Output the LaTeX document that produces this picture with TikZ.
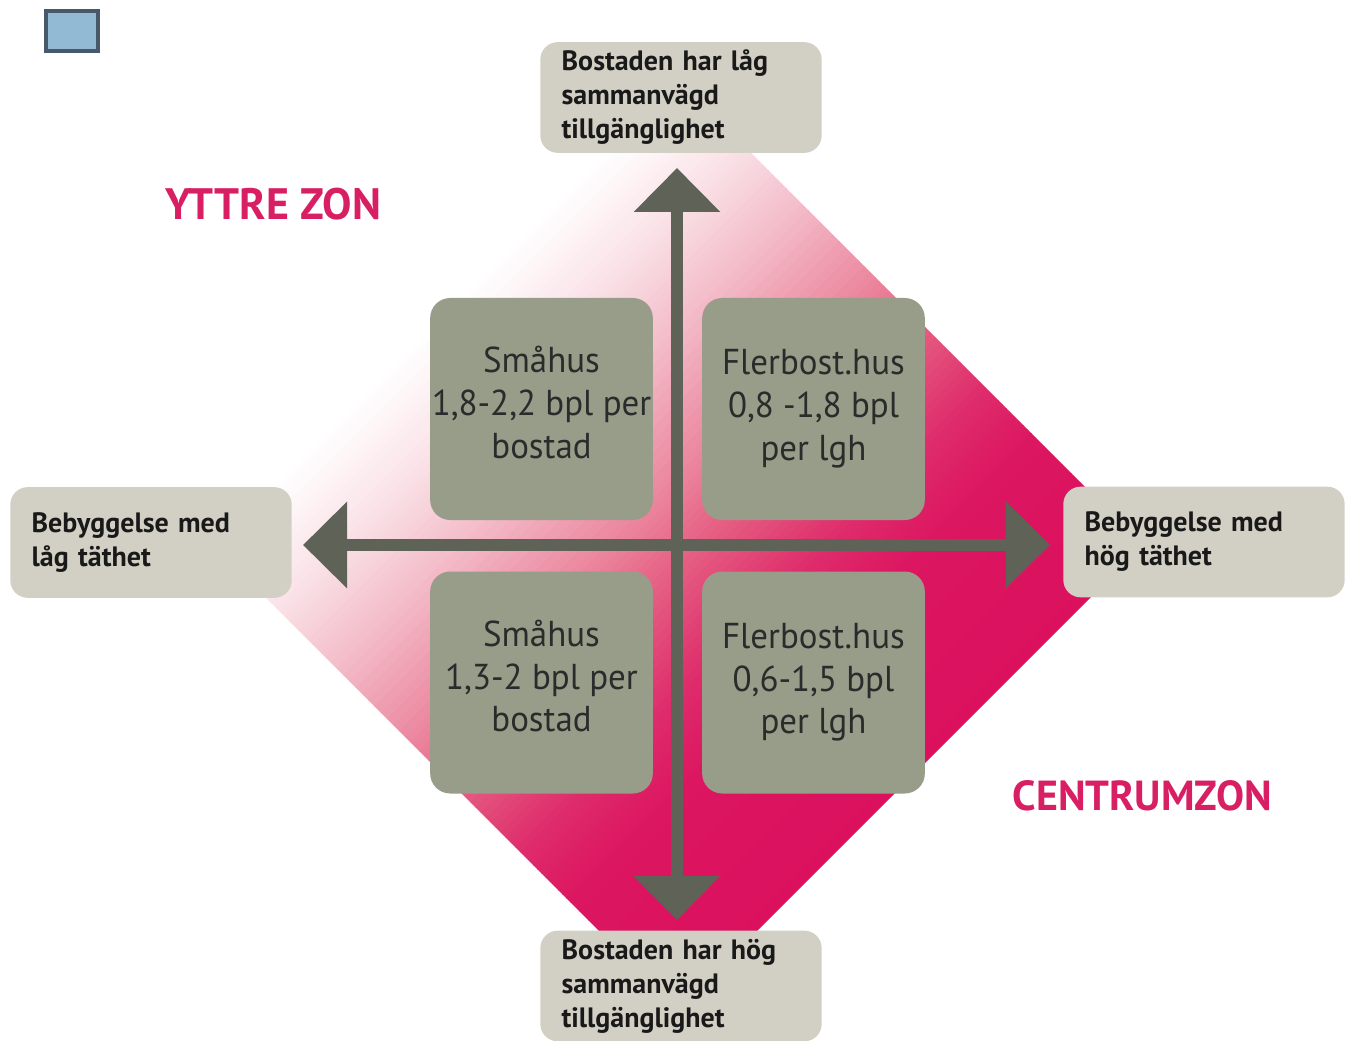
\documentclass[tikz,border=0pt]{standalone}
\usepackage{fontspec}
\setmainfont{PT Sans}
\newfontfamily\innerfont[FakeStretch=0.97]{PT Sans}
\usetikzlibrary{arrows.meta}
\definecolor{outerfill}{HTML}{D2D0C5}
\definecolor{innerfill}{HTML}{989D8A}
\definecolor{arrowc}{HTML}{5E6257}
\definecolor{textdark}{HTML}{2B2B2B}
\definecolor{zonec}{HTML}{D81F63}
\definecolor{sqfill}{HTML}{93BAD5}
\definecolor{sqborder}{HTML}{46596A}
\definecolor{sA}{HTML}{FFFFFF}
\definecolor{sB}{HTML}{FAE3E8}
\definecolor{sC}{HTML}{F4C0CC}
\definecolor{sD}{HTML}{EC8AA1}
\definecolor{sE}{HTML}{E55C81}
\definecolor{sF}{HTML}{DE2C6B}
\definecolor{sG}{HTML}{DC1661}
\definecolor{sH}{HTML}{DB115E}
\newcommand\bandseg[4]{%
  \foreach \k in {0,...,11}{%
    \pgfmathsetmacro\ua{#1+(#2-#1)*\k/12}%
    \pgfmathsetmacro\ub{#1+(#2-#1)*(\k+1)/12+1}%
    \pgfmathsetmacro\pc{100*(\k+0.5)/12}%
    \colorlet{bandc}{#4!\pc!#3}%
    \fill[bandc] ({678+\ua/2+520},{545+\ua/2-520}) -- ({678+\ua/2-520},{545+\ua/2+520})
      -- ({678+\ub/2-520},{545+\ub/2+520}) -- ({678+\ub/2+520},{545+\ub/2-520}) -- cycle;
  }}
\tikzset{
  outerbox/.style={fill=outerfill, rounded corners=13pt, minimum height=83pt,
    text width=179pt, inner xsep=16pt, align=left, text=black!90,
    font=\bfseries\fontsize{21}{25.5}\selectfont},
  innerbox/.style={fill=innerfill, rounded corners=15pt, minimum width=167pt,
    minimum height=166.5pt, inner sep=0pt, align=center, text=textdark,
    font=\innerfont\fontsize{27}{32}\selectfont},
  axisarrow/.style={draw=arrowc, line width=9pt,
    {Triangle[length=33pt,width=63pt]}-{Triangle[length=33pt,width=63pt]}},
  zonelabel/.style={text=zonec, font=\bfseries\fontsize{#1}{#1}\selectfont, inner sep=0pt},
  legendsq/.style={draw=sqborder, line width=3pt, fill=sqfill, minimum width=39pt,
    minimum height=30pt, inner sep=0pt}
}
\begin{document}
\begin{tikzpicture}[x=0.75pt,y=-0.75pt]
\useasboundingbox (0,0) rectangle (1346,1041);
% gradient diamond
\begin{scope}
  \clip (678,80) -- (1143,545) -- (678,1010) -- (213,545) -- cycle;
  \bandseg{-465}{-340}{sA}{sB}
  \bandseg{-340}{-230}{sB}{sC}
  \bandseg{-230}{-80}{sC}{sD}
  \bandseg{-80}{30}{sD}{sE}
  \bandseg{30}{150}{sE}{sF}
  \bandseg{150}{250}{sF}{sG}
  \bandseg{250}{466}{sG}{sH}
\end{scope}
% legend square
\node[legendsq] (sq) at (71.5,31.5) {};
% inner boxes
\node[innerbox] (ul) at (541.5,409) {Småhus\\1,8-2,2 bpl per\\bostad\\[-22pt]\mbox{}};
\node[innerbox] (ur) at (813.5,409) {Flerbost.hus\\0,8 -1,8 bpl\\per lgh\\[-26pt]\mbox{}};
\node[innerbox] (ll) at (541.5,682.5) {Småhus\\1,3-2 bpl per\\bostad\\[-22pt]\mbox{}};
\node[innerbox] (lr) at (813.5,682.5) {Flerbost.hus\\0,6-1,5 bpl\\per lgh\\[-26pt]\mbox{}};
% axes
\coordinate (hl) at (303,545);
\coordinate (hr) at (1050,545);
\coordinate (vt) at (677,168);
\coordinate (vb) at (677,920);
\draw[axisarrow] (hl) -- (hr);
\draw[axisarrow] (vb) -- (vt);
% outer labels
\node[outerbox] (top) at (681,97.5) {Bostaden har låg\\sammanvägd\\tillgänglighet};
\node[outerbox] (bot) at (681,986) {Bostaden har hög\\sammanvägd\\tillgänglighet};
\node[outerbox] (lft) at (151,542.5) {Bebyggelse med\\låg täthet};
\node[outerbox] (rgt) at (1204,542) {Bebyggelse med\\hög täthet};
% zone labels
\node[zonelabel=33] (yz) at (273.5,204) {YTTRE ZON};
\node[zonelabel=31.5] (cz) at (1142.5,796) {CENTRUMZON};
\end{tikzpicture}
\end{document}
